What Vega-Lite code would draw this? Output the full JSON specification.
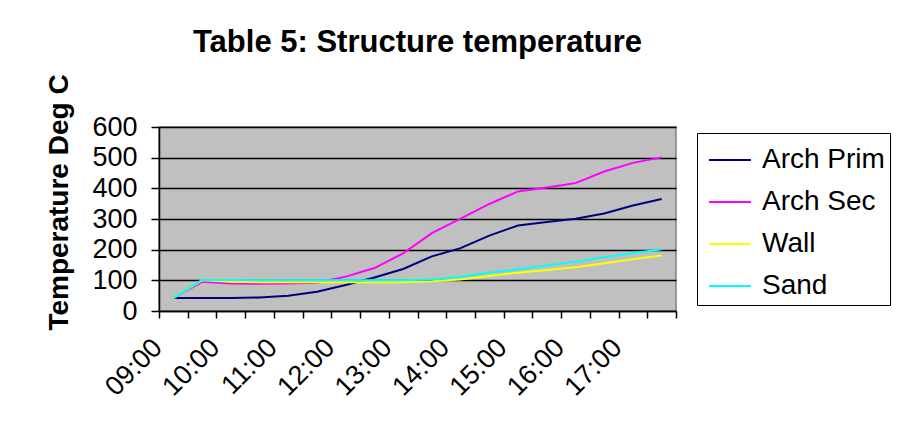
{
  "$schema": "https://vega.github.io/schema/vega-lite/v6.json",
  "width": 517,
  "height": 184,
  "autosize": {"type": "none"},
  "padding": {"left": 159, "top": 127, "right": 224, "bottom": 121},
  "background": "white",
  "title": {
    "text": "Table 5: Structure temperature",
    "font": "Liberation Sans",
    "fontSize": 31,
    "fontWeight": "bold",
    "color": "black",
    "anchor": "middle",
    "frame": "group",
    "offset": 15
  },
  "data": {
    "values": [
      {"time": "09:00", "series": "Arch Prim", "temp": 42},
      {"time": "09:30", "series": "Arch Prim", "temp": 42},
      {"time": "10:00", "series": "Arch Prim", "temp": 42},
      {"time": "10:30", "series": "Arch Prim", "temp": 44},
      {"time": "11:00", "series": "Arch Prim", "temp": 50},
      {"time": "11:30", "series": "Arch Prim", "temp": 63},
      {"time": "12:00", "series": "Arch Prim", "temp": 85},
      {"time": "12:30", "series": "Arch Prim", "temp": 109},
      {"time": "13:00", "series": "Arch Prim", "temp": 137},
      {"time": "13:30", "series": "Arch Prim", "temp": 178},
      {"time": "14:00", "series": "Arch Prim", "temp": 205},
      {"time": "14:30", "series": "Arch Prim", "temp": 246},
      {"time": "15:00", "series": "Arch Prim", "temp": 279},
      {"time": "15:30", "series": "Arch Prim", "temp": 290},
      {"time": "16:00", "series": "Arch Prim", "temp": 301},
      {"time": "16:30", "series": "Arch Prim", "temp": 318},
      {"time": "17:00", "series": "Arch Prim", "temp": 344},
      {"time": "17:30", "series": "Arch Prim", "temp": 365},
      {"time": "09:00", "series": "Arch Sec", "temp": 42},
      {"time": "09:30", "series": "Arch Sec", "temp": 95},
      {"time": "10:00", "series": "Arch Sec", "temp": 90},
      {"time": "10:30", "series": "Arch Sec", "temp": 89},
      {"time": "11:00", "series": "Arch Sec", "temp": 90},
      {"time": "11:30", "series": "Arch Sec", "temp": 92},
      {"time": "12:00", "series": "Arch Sec", "temp": 112},
      {"time": "12:30", "series": "Arch Sec", "temp": 140},
      {"time": "13:00", "series": "Arch Sec", "temp": 188},
      {"time": "13:30", "series": "Arch Sec", "temp": 254},
      {"time": "14:00", "series": "Arch Sec", "temp": 301},
      {"time": "14:30", "series": "Arch Sec", "temp": 349},
      {"time": "15:00", "series": "Arch Sec", "temp": 390},
      {"time": "15:30", "series": "Arch Sec", "temp": 403},
      {"time": "16:00", "series": "Arch Sec", "temp": 417},
      {"time": "16:30", "series": "Arch Sec", "temp": 455},
      {"time": "17:00", "series": "Arch Sec", "temp": 483},
      {"time": "17:30", "series": "Arch Sec", "temp": 501},
      {"time": "09:00", "series": "Wall", "temp": 42},
      {"time": "09:30", "series": "Wall", "temp": 100},
      {"time": "10:00", "series": "Wall", "temp": 95},
      {"time": "10:30", "series": "Wall", "temp": 94},
      {"time": "11:00", "series": "Wall", "temp": 94},
      {"time": "11:30", "series": "Wall", "temp": 94},
      {"time": "12:00", "series": "Wall", "temp": 94},
      {"time": "12:30", "series": "Wall", "temp": 94},
      {"time": "13:00", "series": "Wall", "temp": 94},
      {"time": "13:30", "series": "Wall", "temp": 97},
      {"time": "14:00", "series": "Wall", "temp": 103},
      {"time": "14:30", "series": "Wall", "temp": 114},
      {"time": "15:00", "series": "Wall", "temp": 125},
      {"time": "15:30", "series": "Wall", "temp": 134},
      {"time": "16:00", "series": "Wall", "temp": 143},
      {"time": "16:30", "series": "Wall", "temp": 156},
      {"time": "17:00", "series": "Wall", "temp": 169},
      {"time": "17:30", "series": "Wall", "temp": 181},
      {"time": "09:00", "series": "Sand", "temp": 42},
      {"time": "09:30", "series": "Sand", "temp": 101},
      {"time": "10:00", "series": "Sand", "temp": 101},
      {"time": "10:30", "series": "Sand", "temp": 100},
      {"time": "11:00", "series": "Sand", "temp": 100},
      {"time": "11:30", "series": "Sand", "temp": 100},
      {"time": "12:00", "series": "Sand", "temp": 100},
      {"time": "12:30", "series": "Sand", "temp": 100},
      {"time": "13:00", "series": "Sand", "temp": 100},
      {"time": "13:30", "series": "Sand", "temp": 103},
      {"time": "14:00", "series": "Sand", "temp": 112},
      {"time": "14:30", "series": "Sand", "temp": 125},
      {"time": "15:00", "series": "Sand", "temp": 136},
      {"time": "15:30", "series": "Sand", "temp": 148},
      {"time": "16:00", "series": "Sand", "temp": 161},
      {"time": "16:30", "series": "Sand", "temp": 175},
      {"time": "17:00", "series": "Sand", "temp": 188},
      {"time": "17:30", "series": "Sand", "temp": 201}
    ]
  },
  "mark": {"type": "line", "strokeWidth": 2},
  "encoding": {
    "x": {
      "field": "time",
      "type": "ordinal",
      "scale": {"type": "band", "paddingInner": 0, "paddingOuter": 0},
      "axis": {
        "title": null,
        "tickBand": "extent",
        "labelAngle": -45,
        "labelExpr": "substring(datum.label + '', 3) == '00' ? datum.label : ''",
        "labelOverlap": false,
        "labelFont": "Liberation Sans",
        "labelFontSize": 27,
        "labelColor": "black",
        "labelPadding": 16,
        "labelOffset": -25,
        "tickSize": 7,
        "tickColor": "black",
        "tickWidth": 1.5,
        "domainColor": "black",
        "domainWidth": 1.5,
        "grid": false
      }
    },
    "y": {
      "field": "temp",
      "type": "quantitative",
      "scale": {"domain": [0, 600]},
      "axis": {
        "title": "Temperature Deg C",
        "titleFont": "Liberation Sans",
        "titleFontSize": 28,
        "titleFontWeight": "bold",
        "titleColor": "black",
        "titleAngle": -90,
        "titleX": -100,
        "titleY": 75,
        "titleAlign": "center",
        "titleBaseline": "middle",
        "values": [0, 100, 200, 300, 400, 500, 600],
        "grid": true,
        "gridColor": "black",
        "gridWidth": 1.5,
        "domainColor": "black",
        "domainWidth": 1.5,
        "tickColor": "black",
        "tickWidth": 1.5,
        "tickSize": 8,
        "labelFont": "Liberation Sans",
        "labelFontSize": 27,
        "labelColor": "black",
        "labelPadding": 14
      }
    },
    "color": {
      "field": "series",
      "type": "nominal",
      "sort": ["Arch Prim", "Arch Sec", "Wall", "Sand"],
      "scale": {
        "domain": ["Arch Prim", "Arch Sec", "Wall", "Sand"],
        "range": ["#000080", "#FF00FF", "#FFFF00", "#00FFFF"]
      },
      "legend": {
        "orient": "none",
        "legendX": 538,
        "legendY": 6,
        "title": null,
        "symbolType": "stroke",
        "symbolSize": 1764,
        "symbolStrokeWidth": 2,
        "symbolOffset": 6,
        "labelOffset": 10,
        "labelFont": "Liberation Sans",
        "labelFontSize": 28,
        "labelColor": "black",
        "rowPadding": 6,
        "padding": 5,
        "strokeColor": "black",
        "fillColor": "white"
      }
    }
  },
  "config": {
    "view": {"fill": "#C0C0C0", "stroke": "#808080", "strokeWidth": 1.5}
  }
}
